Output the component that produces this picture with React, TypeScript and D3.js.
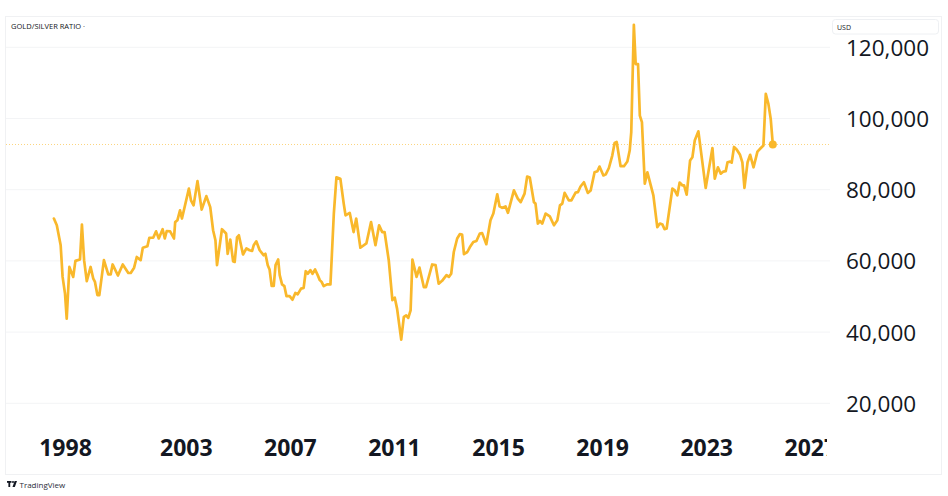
import { useMemo } from 'react';
import * as d3 from 'd3';

// decimal years (time axis of the chart)
const years = [
  1997.52, 1997.64, 1997.8, 1997.88, 1997.98, 1998.05, 1998.16, 1998.32, 1998.41, 1998.6,
  1998.68, 1998.77, 1998.88, 1999.04, 1999.15, 1999.22, 1999.32, 1999.4, 1999.59, 1999.77,
  1999.87, 1999.95, 2000.17, 2000.37, 2000.6, 2000.7, 2000.84, 2000.95, 2001.11, 2001.2,
  2001.39, 2001.47, 2001.63, 2001.75, 2001.86, 2002.02, 2002.11, 2002.19, 2002.33, 2002.49,
  2002.54, 2002.63, 2002.74, 2002.82, 2003.1, 2003.18, 2003.28, 2003.43, 2003.59, 2003.77,
  2003.92, 2004.03, 2004.12, 2004.18, 2004.37, 2004.53, 2004.59, 2004.69, 2004.8, 2004.86,
  2004.95, 2005.02, 2005.18, 2005.31, 2005.43, 2005.53, 2005.59, 2005.69, 2005.82, 2005.97,
  2006.04, 2006.13, 2006.2, 2006.28, 2006.36, 2006.43, 2006.53, 2006.59, 2006.68, 2006.77,
  2006.85, 2006.97, 2007.08, 2007.19, 2007.28, 2007.41, 2007.51, 2007.59, 2007.67, 2007.77,
  2007.85, 2007.95, 2008.05, 2008.13, 2008.2, 2008.28, 2008.41, 2008.54, 2008.67, 2008.77,
  2008.92, 2009.05, 2009.12, 2009.28, 2009.43, 2009.53, 2009.69, 2009.92, 2010.1, 2010.27,
  2010.41, 2010.53, 2010.62, 2010.78, 2010.92, 2011.01, 2011.1, 2011.26, 2011.36, 2011.45,
  2011.53, 2011.62, 2011.69, 2011.85, 2011.96, 2012.13, 2012.21, 2012.45, 2012.58, 2012.7,
  2012.83, 2013.0, 2013.09, 2013.18, 2013.28, 2013.41, 2013.51, 2013.6, 2013.67, 2013.8,
  2013.9, 2014.03, 2014.15, 2014.28, 2014.37, 2014.53, 2014.69, 2014.8, 2014.95, 2015.04,
  2015.14, 2015.27, 2015.36, 2015.59, 2015.74, 2015.85, 2016.0, 2016.1, 2016.2, 2016.36,
  2016.42, 2016.51, 2016.59, 2016.68, 2016.81, 2016.97, 2017.13, 2017.26, 2017.36, 2017.45,
  2017.54, 2017.7, 2017.8, 2017.96, 2018.05, 2018.15, 2018.28, 2018.43, 2018.54, 2018.69,
  2018.8, 2018.88, 2019.03, 2019.12, 2019.24, 2019.37, 2019.46, 2019.54, 2019.69, 2019.82,
  2019.95, 2020.04, 2020.1, 2020.2, 2020.27, 2020.36, 2020.43, 2020.51, 2020.62, 2020.72,
  2020.85, 2020.95, 2021.1, 2021.2, 2021.3, 2021.38, 2021.46, 2021.68, 2021.77, 2021.87,
  2021.96, 2022.07, 2022.13, 2022.23, 2022.36, 2022.45, 2022.54, 2022.68, 2022.96, 2023.22,
  2023.31, 2023.43, 2023.54, 2023.64, 2023.73, 2023.8, 2023.9, 2023.96, 2024.05, 2024.15,
  2024.28, 2024.37, 2024.45, 2024.57, 2024.67, 2024.8, 2024.95, 2025.08, 2025.18, 2025.27,
  2025.37, 2025.46, 2025.54,
];

const ratio = [
  71900, 70000, 64400, 55500, 50800, 43800, 58300, 55500, 60000, 60400,
  70200, 60200, 54300, 58300, 55000, 54100, 50400, 50400, 60200, 56200,
  56200, 59000, 55900, 59000, 56600, 56600, 58100, 61100, 60200, 63700,
  64100, 66500, 66500, 68300, 66300, 68900, 66300, 68400, 68300, 66300,
  70900, 71400, 74200, 71900, 80300, 77000, 75600, 82400, 74400, 78200,
  75100, 68600, 65800, 58800, 68900, 67700, 62000, 66000, 59900, 59700,
  66600, 67200, 61800, 63500, 63000, 62800, 64400, 65500, 63000, 61600,
  62000, 58800, 57600, 53000, 53000, 58800, 60400, 56000, 53400, 52900,
  50100, 50100, 49100, 51000, 50600, 52200, 52400, 57100, 56400, 57400,
  56400, 57600, 56000, 54600, 54100, 52900, 53400, 53400, 73300, 83500,
  83100, 76100, 72800, 73500, 68100, 71900, 63700, 64900, 70900, 64400,
  70000, 68100, 68100, 60200, 49000, 49700, 46600, 37900, 44300, 44700,
  44000, 46100, 60400, 55500, 58100, 52600, 52600, 59000, 58800, 53600,
  54400, 56000, 55500, 56400, 62500, 66300, 67500, 67400, 61900, 62500,
  63900, 65300, 65600, 67700, 67800, 64700, 71400, 73300, 78700, 75300,
  74900, 75300, 73500, 79800, 77500, 76500, 78900, 83700, 83400, 76500,
  76100, 70500, 71200, 70500, 73300, 72500, 70000, 71400, 75600, 76100,
  79100, 77000, 77000, 79200, 79300, 80900, 82100, 79100, 79800, 84900,
  85200, 86500, 84000, 84300, 86100, 89600, 93100, 93400, 86600, 86600,
  87900, 91000, 96200, 126300, 115300, 115300, 100800, 99000, 81700, 84900,
  81200, 78400, 69500, 70500, 70200, 68900, 69100, 80300, 79800, 78400,
  82000, 81200, 81200, 78600, 88200, 89100, 93800, 96400, 80500, 91700,
  83100, 86300, 84500, 85100, 85200, 87700, 87900, 87600, 92000, 91300,
  89800, 87700, 80500, 87700, 89800, 86300, 90700, 91700, 92400, 106900,
  104100, 99900, 92700,
];

const yearTicks = [1998, 2003, 2007, 2011, 2015, 2019, 2023, 2027];
const valueTicks = [20000, 40000, 60000, 80000, 100000, 120000];

const W = 948;
const H = 496;
const LINE = '#F9B82B';
const TEXT = '#131722';

export default function App() {
  const points = useMemo(() => years.map((t, i) => ({ t, v: ratio[i] })), []);

  // TradingView spaces bars evenly, so the first years sit a little tighter
  const x = d3.scaleLinear().domain([1998, 2003, 2027]).range([65.5, 186.3, 810.8]);
  const y = d3.scaleLinear().domain([20000, 120000]).range([403.3, 47.3]);

  const path = d3.line<{ t: number; v: number }>()
    .x(d => x(d.t))
    .y(d => y(d.v))(points) || '';

  const last = points[points.length - 1];
  const fmt = d3.format(',');

  return (
    <svg
      width={W}
      height={H}
      style={{ position: 'absolute', left: 0, top: 0, background: '#fff' }}
      fontFamily="'Open Sans', sans-serif"
    >
      <defs>
        <clipPath id="pane">
          <rect x={5} y={16} width={825} height={458} />
        </clipPath>
        <clipPath id="timescale">
          <rect x={5} y={420} width={822} height={54} />
        </clipPath>
      </defs>

      {/* frame */}
      <rect x={5.5} y={16.5} width={936} height={458} fill="#fff" stroke="#f0f1f3" />

      {/* grid */}
      {valueTicks.map(v => (
        <line key={v} x1={6} x2={830} y1={y(v)} y2={y(v)} stroke="#f3f4f6" strokeWidth={1} />
      ))}

      {/* last value line */}
      <line
        x1={6}
        x2={830}
        y1={y(last.v)}
        y2={y(last.v)}
        stroke="#fcd57f"
        strokeWidth={1}
        strokeDasharray="1 2"
      />

      <g clipPath="url(#pane)">
        <path d={path} fill="none" stroke={LINE} strokeWidth={2.7} strokeLinejoin="round" strokeLinecap="round" />
        <circle cx={x(last.t)} cy={y(last.v)} r={4} fill={LINE} />
      </g>

      <g clipPath="url(#timescale)">
        {yearTicks.map(t => (
          <text
            key={t}
            x={x(t)}
            y={447}
            textAnchor="middle"
            dominantBaseline="central"
            fontSize={23}
            fontWeight={700}
            fill={TEXT}
          >
            {t}
          </text>
        ))}
      </g>

      {/* price scale */}
      {valueTicks.map(v => (
        <text key={v} x={846} y={y(v)} dominantBaseline="central" fontSize={22.5} fill={TEXT}>
          {fmt(v)}
        </text>
      ))}
      <rect x={832.5} y={19.5} width={106} height={14.5} rx={3} fill="#fff" stroke="#eef0f3" />
      <text x={837} y={27} dominantBaseline="central" fontSize={7} fill={TEXT}>USD</text>

      {/* legend */}
      <text x={11} y={25.5} dominantBaseline="central" fontSize={7.5} fill={TEXT}>GOLD/SILVER RATIO ·</text>

      {/* footer */}
      <g transform="translate(7,480)" fill={TEXT}>
        <rect x={0} y={1} width={4.5} height={1.8} />
        <rect x={1.4} y={1} width={1.8} height={6} />
        <circle cx={6} cy={2} r={1} />
        <path d="M7.6 1 H10 L7.8 7 H5.5 Z" />
        <text x={12.5} y={4.5} dominantBaseline="central" fontSize={8} fill="#2a2e39">TradingView</text>
      </g>
    </svg>
  );
}
